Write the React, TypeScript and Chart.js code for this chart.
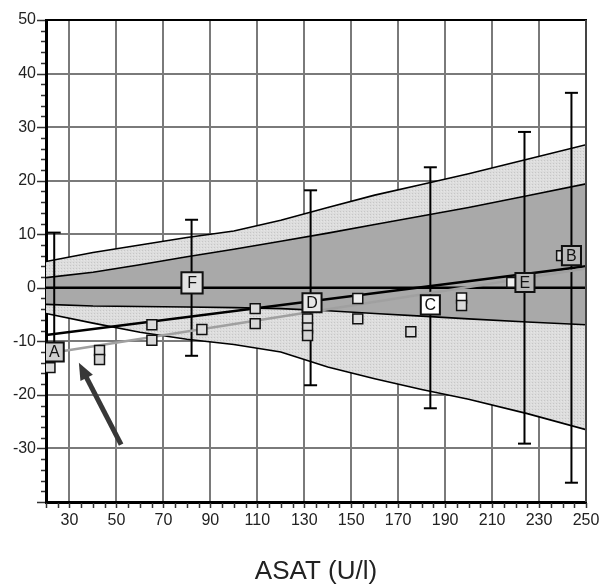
import React, { useEffect, useRef } from 'react';
import { Chart, registerables } from 'chart.js';

Chart.register(...registerables);

// ---- axis ticks ----
const xTickValues = [30, 50, 70, 90, 110, 130, 150, 170, 190, 210, 230, 250];
const yTickValues = [-40, -30, -20, -10, 0, 10, 20, 30, 40, 50];

// ---- prediction / confidence bands ----
const bandX = [20, 40, 60, 80, 100, 120, 140, 160, 180, 200, 225, 250];
const outerUpper = [4.9, 6.6, 8.0, 9.4, 10.6, 12.6, 15.0, 17.3, 19.3, 21.3, 24.0, 26.7];
const outerLower = [-4.8, -6.6, -8.3, -9.6, -10.6, -12.0, -14.8, -17.0, -19.0, -20.8, -23.5, -26.5];
const innerUpper = [1.9, 2.9, 4.3, 5.8, 7.2, 8.7, 10.2, 11.8, 13.4, 15.0, 17.2, 19.4];
const innerLower = [-3.1, -3.4, -3.5, -3.6, -3.7, -3.9, -4.3, -4.8, -5.3, -5.8, -6.4, -6.9];

// ---- regression lines ----
const zeroX = [20, 250];
const zeroY = [0, 0];
const regX = [20, 250];
const regY = [-8.8, 4.0];
const grayX = [23.4, 250];
const grayY = [-12.1, 3.6];

// ---- error bars (centred on 0) with labelled means ----
const labelNames = ['A', 'F', 'D', 'C', 'E', 'B'];
const errX = [23.5, 82, 132.7, 183.7, 223.8, 243.8];
const errHalf = [10.3, 12.7, 18.2, 22.5, 29.1, 36.4];
const labelX = [23.5, 82.2, 133.3, 183.7, 224, 243.8];
const labelY = [-12.0, 0.9, -2.8, -3.2, 1.0, 6.0];

// ---- individual observations ----
const ptsX = [21.7, 42.8, 42.8, 65.1, 65.1, 86.4, 109.1, 109.1, 131.4, 131.4, 131.4, 152.8, 152.8, 175.4, 197, 197, 218.4, 239.6];
const ptsY = [-14.9, -11.7, -13.4, -6.9, -9.8, -7.8, -3.9, -6.7, -5.8, -7.5, -8.9, -2.0, -5.8, -8.2, -1.9, -3.3, 1.0, 6.0];

// ---- arrow ----
const arrowTail = [52.0, -29.3];
const arrowHead = [34.0, -14.0];

// styles (kept separate from the data)
const pointFills = ['#dcdcdc', '#dcdcdc', '#d4d4d4', '#dcdcdc', '#d8d8d8', '#dcdcdc', '#dcdcdc', '#d8d8d8', '#dcdcdc', '#d8d8d8', '#d4d4d4', '#eeeeee', '#dcdcdc', '#dcdcdc', '#f8f8f8', '#d8d8d8', '#f0f0f0', '#dcdcdc'];
const labelFills = ['#cfcfcf', '#e2e2e2', '#e6e6e6', '#ffffff', '#b8b8b8', '#b8b8b8'];
const labelRadii = [13.5, 15, 13.5, 13.5, 13.5, 13.5];

const FONT = '"Liberation Sans", Arial, Helvetica, sans-serif';

const xy = (xs: number[], ys: number[]) => xs.map((x, i) => ({ x, y: ys[i] }));

export default function App() {
  const ref = useRef<HTMLCanvasElement>(null);

  useEffect(() => {
    const canvas = ref.current!;
    const ctx = canvas.getContext('2d')!;

    const pc = document.createElement('canvas');
    pc.width = 3;
    pc.height = 3;
    const pctx = pc.getContext('2d')!;
    pctx.fillStyle = '#dddddd';
    pctx.fillRect(0, 0, 3, 3);
    pctx.fillStyle = '#c6c6c6';
    pctx.fillRect(1, 1, 1, 1);
    pctx.fillStyle = '#e6e6e6';
    pctx.fillRect(0, 2, 1, 1);
    const lightPattern = ctx.createPattern(pc, 'repeat')!;

    const lineBase = { type: 'line' as const, pointRadius: 0, borderColor: '#000', tension: 0 };

    const errorDatasets = errX.map((x, i) => ({
      ...lineBase,
      data: [{ x, y: -errHalf[i] }, { x, y: errHalf[i] }],
      borderWidth: 2,
      pointStyle: 'line' as const,
      pointRadius: 6.5,
      pointBorderWidth: 2,
      pointBorderColor: '#000',
      fill: false,
      order: 5,
    }));

    const extras = {
      id: 'extras',
      afterDatasetsDraw(chart: any) {
        const c = chart.ctx;
        const xs = chart.scales.x;
        const ys = chart.scales.y;
        // letters in boxes
        c.save();
        c.fillStyle = '#111';
        c.font = `16px ${FONT}`;
        c.textAlign = 'center';
        c.textBaseline = 'middle';
        labelNames.forEach((n, i) => {
          c.fillText(n, xs.getPixelForValue(labelX[i]), ys.getPixelForValue(labelY[i]) + 1);
        });
        c.restore();
        // arrow
        const x1 = xs.getPixelForValue(arrowTail[0]);
        const y1 = ys.getPixelForValue(arrowTail[1]);
        const x2 = xs.getPixelForValue(arrowHead[0]);
        const y2 = ys.getPixelForValue(arrowHead[1]);
        const ang = Math.atan2(y2 - y1, x2 - x1);
        const hl = 17;
        const hw = 7;
        const bx = x2 - hl * Math.cos(ang);
        const by = y2 - hl * Math.sin(ang);
        c.save();
        c.strokeStyle = '#383838';
        c.fillStyle = '#383838';
        c.lineWidth = 5;
        c.beginPath();
        c.moveTo(x1, y1);
        c.lineTo(bx + 2 * Math.cos(ang), by + 2 * Math.sin(ang));
        c.stroke();
        c.beginPath();
        c.moveTo(x2, y2);
        c.lineTo(bx + hw * Math.sin(ang), by - hw * Math.cos(ang));
        c.lineTo(bx - hw * Math.sin(ang), by + hw * Math.cos(ang));
        c.closePath();
        c.fill();
        c.restore();
      },
      afterDraw(chart: any) {
        const c = chart.ctx;
        const xs = chart.scales.x;
        const ys = chart.scales.y;
        const { left, right, top, bottom } = chart.chartArea;
        c.save();
        // top & right frame
        c.strokeStyle = '#000';
        c.lineWidth = 2;
        c.beginPath();
        c.moveTo(left, top);
        c.lineTo(right + 1, top);
        c.stroke();
        c.strokeStyle = '#444';
        c.beginPath();
        c.moveTo(right, top);
        c.lineTo(right, bottom);
        c.stroke();
        // minor ticks
        c.strokeStyle = '#333';
        c.lineWidth = 1.5;
        c.beginPath();
        for (let v = 20; v <= 250; v += 5) {
          const px = Math.round(xs.getPixelForValue(v)) + 0.5;
          c.moveTo(px, bottom + 1);
          c.lineTo(px, bottom + 6);
        }
        for (let v = -40; v <= 50; v += 2) {
          const py = Math.round(ys.getPixelForValue(v)) + 0.5;
          const len = v % 10 === 0 ? 8 : 4;
          c.moveTo(left - 1 - len, py);
          c.lineTo(left - 1, py);
        }
        c.stroke();
        c.restore();
      },
    };

    const chart = new Chart(canvas, {
      type: 'line',
      data: {
        datasets: [
          { ...lineBase, data: xy(bandX, outerUpper), borderWidth: 1.6, fill: '+1', backgroundColor: lightPattern, order: 10 },
          { ...lineBase, data: xy(bandX, outerLower), borderWidth: 1.6, fill: false, order: 9 },
          { ...lineBase, data: xy(bandX, innerUpper), borderWidth: 1.6, fill: '+1', backgroundColor: '#a9a9a9', order: 8 },
          { ...lineBase, data: xy(bandX, innerLower), borderWidth: 1.6, fill: false, order: 7 },
          { ...lineBase, data: xy(zeroX, zeroY), borderWidth: 2.5, fill: false, order: 6 },
          ...errorDatasets,
          { ...lineBase, data: xy(regX, regY), borderWidth: 2.5, fill: false, order: 4 },
          { ...lineBase, data: xy(grayX, grayY), borderWidth: 2.5, borderColor: '#a0a0a0', fill: false, order: 3 },
          {
            type: 'scatter' as const,
            data: xy(ptsX, ptsY),
            pointStyle: 'rect' as const,
            pointRadius: 7,
            backgroundColor: pointFills,
            borderColor: '#111',
            borderWidth: 1.5,
            order: 2,
          },
          {
            type: 'scatter' as const,
            data: xy(labelX, labelY),
            pointStyle: 'rect' as const,
            pointRadius: labelRadii,
            backgroundColor: labelFills,
            borderColor: '#111',
            borderWidth: 2,
            order: 1,
          },
        ] as any,
      },
      options: {
        animation: false,
        responsive: false,
        layout: { padding: { left: 0, right: 13, top: 20, bottom: 0 } },
        plugins: { legend: { display: false }, tooltip: { enabled: false } },
        scales: {
          x: {
            type: 'linear',
            min: 20,
            max: 250,
            afterBuildTicks: (s: any) => {
              s.ticks = xTickValues.map((v) => ({ value: v }));
            },
            afterFit: (s: any) => {
              s.height = 84;
              s.paddingLeft = 0;
              s.paddingRight = 0;
            },
            ticks: {
              autoSkip: false,
              maxRotation: 0,
              padding: 9,
              color: '#222',
              font: { family: FONT, size: 16 },
              callback: (v: any) => String(v),
            },
            grid: { color: '#7a7a7a', lineWidth: 2, drawTicks: false },
            border: { display: true, color: '#000', width: 3 },
            title: {
              display: true,
              text: 'ASAT (U/l)',
              color: '#222',
              font: { family: FONT, size: 26, lineHeight: 1.1 },
              padding: { top: 0, bottom: 0 },
            },
          },
          y: {
            type: 'linear',
            min: -40,
            max: 50,
            afterBuildTicks: (s: any) => {
              s.ticks = yTickValues.map((v) => ({ value: v }));
            },
            afterFit: (s: any) => {
              s.width = 46;
              s.paddingTop = 0;
              s.paddingBottom = 0;
            },
            ticks: {
              padding: 10,
              color: '#222',
              font: { family: FONT, size: 16 },
              callback: (v: any) => (v === -40 ? '' : String(v)),
            },
            grid: { color: '#7a7a7a', lineWidth: 2, drawTicks: false },
            border: { display: true, color: '#000', width: 3 },
          },
        },
      } as any,
      plugins: [extras],
    });

    return () => chart.destroy();
  }, []);

  return (
    <div style={{ position: 'fixed', left: 0, top: 0, width: 603, height: 586, background: '#fff' }}>
      <canvas ref={ref} width={603} height={586} style={{ display: 'block', width: 603, height: 586 }} />
    </div>
  );
}
